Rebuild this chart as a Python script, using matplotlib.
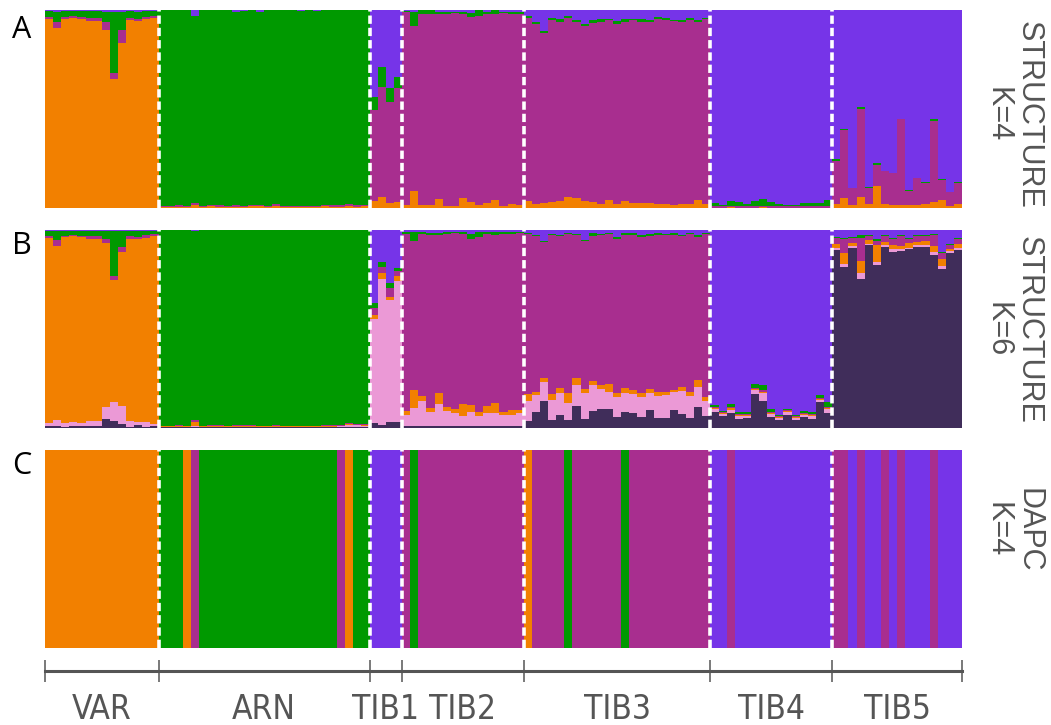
import numpy as np
import matplotlib.pyplot as plt

# groups along the x axis
groups = ['VAR', 'ARN', 'TIB1', 'TIB2', 'TIB3', 'TIB4', 'TIB5']
group_sizes = [14, 26, 4, 15, 23, 15, 16]

# colours of the clusters
c_orange = '#F28000'
c_green = '#009900'
c_magenta = '#A82E8F'
c_violet = '#7634E8'
c_pink = '#EB99D6'
c_dark = '#402D5A'

# ---- STRUCTURE K=4 (bottom to top: orange, magenta, green, violet)
a_orange = [
    .954, .909, .954, .960, .954, .944, .944, .899, .651, .833, .949, .944, .954, .960,
    .005, .005, .005, .005, .013, .005, .010, .005, .005, .005, .005, .010, .010, .005,
    .010, .005, .005, .005, .005, .005, .010, .005, .005, .010, .005, .010,
    .034, .054, .024, .029,
    .013, .084, .013, .013, .044, .008, .008, .049, .029, .013, .024, .039, .008, .019, .013,
    .034, .019, .024, .029, .034, .054, .049, .034, .029, .019, .039, .019, .034, .024,
    .024, .024, .019, .019, .013, .019, .019, .039, .019,
    .002, .002, .005, .002, .002, .002, .006, .002, .002, .002, .002, .002, .002, .002, .002,
    .019, .049, .013, .054, .019, .110, .019, .013, .013, .013, .013, .019, .029, .039, .008, .019,
]
a_magenta = [
    .011, .030, .010, .008, .011, .014, .014, .040, .030, .066, .009, .012, .011, .008,
    .005, .005, .010, .005, .010, .005, .005, .010, .005, .010, .005, .005, .005, .005,
    .010, .005, .005, .005, .005, .005, .005, .010, .010, .010, .010, .005,
    .460, .558, .511, .575,
    .975, .834, .968, .966, .936, .972, .977, .933, .937, .955, .955, .940, .977, .961, .967,
    .928, .910, .862, .921, .905, .908, .890, .885, .907, .922, .910, .910, .907, .925,
    .917, .915, .936, .931, .931, .920, .931, .900, .937,
    .006, .006, .006, .006, .006, .006, .006, .006, .006, .006, .006, .006, .006, .006, .006,
    .219, .344, .086, .446, .081, .108, .167, .162, .436, .073, .137, .106, .411, .101, .071, .106,
]
a_green = [
    .030, .053, .031, .029, .032, .039, .039, .049, .311, .093, .039, .032, .032, .029,
    .990, .990, .985, .990, .947, .990, .985, .985, .990, .975, .985, .985, .975, .990,
    .980, .990, .990, .985, .990, .985, .985, .985, .985, .980, .985, .985,
    .068, .101, .069, .059,
    .007, .072, .017, .019, .010, .010, .005, .008, .017, .030, .013, .019, .005, .010, .010,
    .008, .010, .008, .008, .015, .008, .010, .010, .013, .013, .005, .015, .013, .005,
    .013, .010, .010, .008, .005, .010, .008, .010, .005,
    .016, .005, .023, .021, .011, .026, .032, .021, .011, .005, .005, .016, .016, .016, .031,
    .008, .008, .000, .008, .008, .008, .000, .000, .000, .004, .000, .005, .008, .007, .000, .005,
]
a_violet = [
    .005, .008, .005, .003, .003, .003, .003, .012, .008, .008, .003, .012, .003, .003,
    .000, .000, .000, .000, .030, .000, .000, .000, .000, .010, .005, .000, .010, .000,
    .000, .000, .000, .005, .000, .005, .000, .000, .000, .000, .000, .000,
    .438, .287, .396, .337,
    .005, .010, .002, .002, .010, .010, .010, .010, .017, .002, .008, .002, .010, .010, .010,
    .030, .061, .106, .042, .046, .030, .051, .071, .051, .046, .046, .056, .046, .046,
    .046, .051, .035, .042, .051, .051, .042, .051, .039,
    .976, .987, .966, .971, .981, .966, .956, .971, .981, .987, .987, .976, .976, .976, .961,
    .754, .599, .901, .492, .892, .774, .814, .825, .551, .910, .850, .870, .552, .853, .921, .870,
]

# ---- STRUCTURE K=6 (bottom to top: dark, pink, orange, magenta, green, violet)
b_dark = [
    .010, .010, .005, .010, .010, .010, .010, .044, .034, .019, .005, .015, .005, .010,
    .003, .003, .003, .003, .005, .003, .003, .003, .003, .003, .003, .003, .003, .003,
    .003, .003, .003, .003, .003, .003, .003, .003, .003, .005, .005, .005,
    .024, .013, .029, .029,
    .010, .010, .010, .010, .010, .010, .010, .010, .010, .010, .010, .010, .012, .012, .010,
    .034, .079, .135, .039, .064, .039, .110, .044, .084, .094, .094, .054, .079, .074,
    .054, .089, .049, .049, .089, .069, .049, .105, .059,
    .079, .059, .074, .044, .049, .170, .135, .054, .039, .064, .039, .054, .044, .130, .074,
    .899, .813, .909, .752, .924, .823, .914, .889, .894, .904, .914, .914, .874, .803, .884, .899,
]
b_pink = [
    .014, .029, .019, .019, .014, .024, .024, .061, .096, .091, .029, .014, .024, .009,
    .003, .003, .003, .003, .005, .003, .003, .003, .003, .003, .003, .003, .003, .003,
    .003, .003, .003, .003, .003, .003, .003, .003, .005, .008, .008, .005,
    .526, .739, .617, .713,
    .054, .089, .125, .069, .110, .074, .064, .049, .069, .049, .064, .064, .054, .054, .064,
    .101, .086, .096, .101, .111, .086, .106, .131, .132, .102, .086, .101, .096, .096,
    .101, .086, .111, .116, .091, .117, .111, .101, .076,
    .015, .010, .015, .015, .010, .021, .040, .015, .010, .015, .010, .010, .015, .010, .020,
    .010, .015, .010, .030, .005, .015, .010, .015, .010, .005, .010, .010, .015, .015, .010, .010,
]
b_orange = [
    .936, .880, .941, .941, .941, .920, .920, .829, .617, .779, .920, .925, .931, .951,
    .003, .003, .005, .003, .020, .003, .005, .003, .003, .003, .005, .005, .003, .003,
    .005, .003, .003, .003, .003, .003, .005, .003, .003, .005, .003, .005,
    .020, .030, .015, .025,
    .020, .092, .025, .020, .055, .021, .020, .061, .036, .020, .036, .051, .015, .025, .015,
    .035, .015, .020, .030, .026, .050, .035, .021, .020, .020, .041, .020, .026, .021,
    .020, .021, .020, .015, .011, .020, .020, .035, .020,
    .005, .005, .010, .005, .005, .005, .005, .005, .005, .005, .005, .005, .005, .005, .005,
    .020, .056, .015, .061, .020, .086, .015, .020, .015, .025, .015, .020, .030, .035, .010, .020,
]
b_magenta = [
    .010, .030, .005, .005, .005, .016, .016, .020, .020, .025, .016, .011, .015, .010,
    .003, .003, .005, .003, .010, .003, .003, .005, .003, .005, .003, .003, .003, .003,
    .005, .003, .003, .003, .003, .003, .003, .005, .005, .005, .005, .003,
    .035, .031, .046, .026,
    .896, .752, .820, .876, .798, .875, .890, .862, .840, .886, .872, .852, .903, .893, .895,
    .808, .791, .688, .803, .770, .804, .724, .748, .735, .757, .757, .778, .774, .785,
    .790, .776, .796, .793, .785, .765, .798, .724, .824,
    .006, .005, .006, .005, .005, .005, .011, .005, .005, .005, .005, .005, .005, .005, .006,
    .031, .070, .026, .117, .021, .020, .031, .030, .051, .020, .031, .026, .056, .031, .020, .025,
]
b_green = [
    .025, .046, .025, .020, .025, .025, .025, .041, .228, .081, .025, .030, .020, .015,
    .986, .986, .982, .986, .955, .986, .984, .984, .986, .984, .984, .984, .986, .986,
    .984, .986, .986, .986, .986, .986, .984, .984, .982, .975, .977, .980,
    .024, .025, .023, .015,
    .010, .047, .010, .008, .010, .010, .008, .008, .025, .025, .010, .015, .008, .008, .008,
    .005, .004, .005, .007, .004, .004, .005, .005, .012, .007, .005, .010, .008, .007,
    .010, .008, .007, .007, .007, .005, .005, .010, .004,
    .010, .005, .015, .010, .010, .020, .025, .015, .005, .005, .005, .010, .010, .015, .025,
    .003, .006, .003, .013, .003, .009, .003, .006, .003, .004, .003, .003, .005, .005, .003, .006,
]
b_violet = [
    .005, .005, .005, .005, .005, .005, .005, .005, .005, .005, .005, .005, .005, .005,
    .002, .002, .002, .002, .005, .002, .002, .002, .002, .002, .002, .002, .002, .002,
    .002, .002, .002, .002, .002, .002, .002, .002, .002, .002, .002, .002,
    .371, .162, .270, .192,
    .010, .010, .010, .017, .017, .010, .008, .010, .020, .010, .008, .008, .010, .010, .008,
    .017, .025, .056, .020, .025, .017, .020, .051, .017, .020, .017, .037, .017, .017,
    .025, .020, .017, .020, .017, .024, .017, .025, .017,
    .885, .916, .880, .921, .921, .779, .784, .906, .936, .906, .936, .916, .921, .835, .870,
    .037, .040, .037, .027, .027, .047, .027, .040, .027, .042, .027, .027, .020, .111, .073, .040,
]

# ---- DAPC K=4 hard assignment (O orange, G green, M magenta, V violet)
dapc = (
    'OOOOOOOOOOOOOO'
    'GGGOMGGGGGGGGGGGGGGGGGMOGG'
    'VVVV'
    'MGMMMMMMMMMMMMM'
    'OMMMMGMMMMMMGMMMMMMMMMM'
    'VVMVVVVVVVVVVVV'
    'MMVMVVMVMVVVMVVV'
)
dapc_colors = {'O': c_orange, 'G': c_green, 'M': c_magenta, 'V': c_violet}

n_bars = sum(group_sizes)
edges = np.concatenate([[0], np.cumsum(group_sizes)])
centers = (edges[:-1] + edges[1:]) / 2

W, H = 1051, 725
fig = plt.figure(figsize=(W / 100, H / 100), dpi=100)
left, width = 45 / W, 917 / W
ax_a = fig.add_axes([left, 1 - 208 / H, width, 198 / H])
ax_b = fig.add_axes([left, 1 - 428 / H, width, 198 / H])
ax_c = fig.add_axes([left, 1 - 648 / H, width, 198 / H])

x = np.arange(n_bars)


def stacked(ax, series, colors):
    q = np.array(series, dtype=float)
    q = q / q.sum(axis=0)
    bottom = np.zeros(n_bars)
    for row, col in zip(q, colors):
        ax.bar(x, row, width=1.0, bottom=bottom, align='edge', color=col,
               linewidth=0, antialiased=False)
        bottom += row


stacked(ax_a, [a_orange, a_magenta, a_green, a_violet],
        [c_orange, c_magenta, c_green, c_violet])
stacked(ax_b, [b_dark, b_pink, b_orange, b_magenta, b_green, b_violet],
        [c_dark, c_pink, c_orange, c_magenta, c_green, c_violet])
ax_c.bar(x, np.ones(n_bars), width=1.0, align='edge',
         color=[dapc_colors[k] for k in dapc], linewidth=0, antialiased=False)

for ax in (ax_a, ax_b, ax_c):
    ax.set_xlim(0, n_bars)
    ax.set_ylim(0, 1)
    for e in edges[1:-1]:
        ax.axvline(e, color='white', lw=2.6, ls=(0, (2.3, 1.1)))
    for s in ax.spines.values():
        s.set_visible(False)
    ax.set_yticks([])
    ax.set_xticks([])

# bottom axis with group names
ax_c.spines['bottom'].set_visible(True)
ax_c.spines['bottom'].set_position(('outward', 16.5))
ax_c.spines['bottom'].set_linewidth(2.2)
ax_c.spines['bottom'].set_color('#555555')
ax_c.set_xticks(edges)
ax_c.set_xticklabels([])
ax_c.set_xticks(centers, minor=True)
ax_c.set_xticklabels(groups, minor=True, family='DejaVu Sans', fontstretch='condensed',
                     fontsize=24, color='#555555')
ax_c.tick_params(axis='x', which='major', direction='inout', length=16, width=1.1,
                 color='#555555')
ax_c.tick_params(axis='x', which='minor', length=0, pad=16)

# panel letters and method labels
for letter, ypix in (('A', 30), ('B', 246), ('C', 466)):
    fig.text(22 / W, 1 - ypix / H, letter, fontsize=22, ha='center', va='center',
             family='Open Sans', color='black')

for label, ypix in (('STRUCTURE\nK=4', 115), ('STRUCTURE\nK=6', 330), ('DAPC\nK=4', 530)):
    fig.text(1013 / W, 1 - ypix / H, label, rotation=-90, ha='center', va='center',
             multialignment='center', fontsize=22, color='#555555',
             family='Liberation Sans', linespacing=1.05)

fig.savefig('out.png', dpi=100)
